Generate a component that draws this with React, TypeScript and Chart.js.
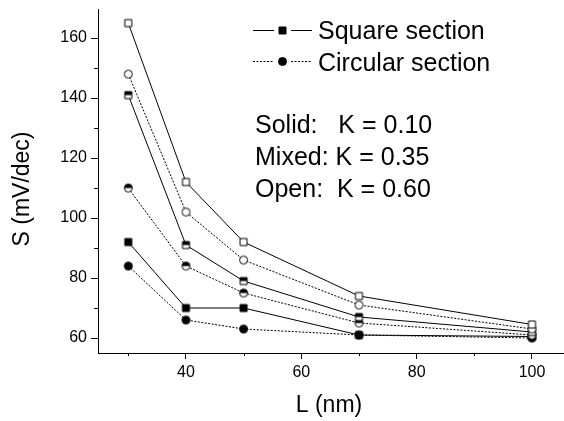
import React, { useEffect, useRef } from 'react';
import { Chart, registerables } from 'chart.js';

Chart.register(...registerables);

// ---- data ----
const lengthsNm = [30, 40, 50, 70, 100];
const squareSolid = [92, 70, 70, 61, 60.5];
const circleSolid = [84, 66, 63, 61, 60];
const squareMixed = [141, 91, 79, 67, 62];
const circleMixed = [110, 84, 75, 65, 61];
const squareOpen = [165, 112, 92, 74, 64.5];
const circleOpen = [148, 102, 86, 71, 63];

const xMajorTicks = [40, 60, 80, 100];
const yMajorTicks = [60, 80, 100, 120, 140, 160];
const legendLabels = ['Square section', 'Circular section'];
const annotationLines = ['Solid:   K = 0.10', 'Mixed: K = 0.35', 'Open:  K = 0.60'];
const xTitle = 'L (nm)';
const yTitle = 'S (mV/dec)';

const FONT = '"Liberation Sans", Arial, Helvetica, sans-serif';

type Shape = 'square' | 'circle';
type Fill = 'full' | 'half' | 'none';

function makeMarker(shape: Shape, fill: Fill): HTMLCanvasElement {
  const c = document.createElement('canvas');
  const dim = 11;
  c.width = dim;
  c.height = dim;
  const g = c.getContext('2d')!;
  const cx = dim / 2;
  const cy = dim / 2;
  const path = () => {
    g.beginPath();
    if (shape === 'square') g.rect(cx - 3.5, cy - 3.5, 7, 7);
    else g.arc(cx, cy, 4, 0, Math.PI * 2);
  };
  path();
  g.fillStyle = fill === 'full' ? '#000' : '#fff';
  g.fill();
  if (fill === 'half') {
    g.save();
    path();
    g.clip();
    g.fillStyle = '#000';
    g.fillRect(0, 0, dim, cy);
    g.restore();
  }
  g.lineWidth = 1;
  g.strokeStyle = '#000';
  path();
  g.stroke();
  return c;
}

export default function App() {
  const ref = useRef<HTMLCanvasElement | null>(null);

  useEffect(() => {
    if (!ref.current) return;
    const sqFull = makeMarker('square', 'full');
    const sqHalf = makeMarker('square', 'half');
    const sqNone = makeMarker('square', 'none');
    const ciFull = makeMarker('circle', 'full');
    const ciHalf = makeMarker('circle', 'half');
    const ciNone = makeMarker('circle', 'none');
    const dotted = [2, 1.5];

    const mk = (label: string, vals: number[], marker: HTMLCanvasElement, dash: number[]) => ({
      label,
      data: lengthsNm.map((x, i) => ({ x, y: vals[i] })),
      borderColor: '#000',
      backgroundColor: '#000',
      borderWidth: 1,
      borderDash: dash,
      pointStyle: marker,
      pointRadius: 5,
      pointHoverRadius: 5,
      tension: 0,
      fill: false,
    });

    const overlay = {
      id: 'overlay',
      afterDraw(chart: any) {
        const { ctx } = chart;
        const xs = chart.scales.x;
        const ys = chart.scales.y;
        ctx.save();
        ctx.strokeStyle = '#000';
        ctx.lineWidth = 1;
        // minor ticks
        xs.ticks.forEach((t: any) => {
          if (!xMajorTicks.includes(t.value)) {
            const px = Math.round(xs.getPixelForValue(t.value)) + 0.5;
            ctx.beginPath();
            ctx.moveTo(px, ys.bottom);
            ctx.lineTo(px, ys.bottom + 3);
            ctx.stroke();
          }
        });
        ys.ticks.forEach((t: any) => {
          if (!yMajorTicks.includes(t.value)) {
            const py = Math.round(ys.getPixelForValue(t.value)) + 0.5;
            ctx.beginPath();
            ctx.moveTo(xs.left, py);
            ctx.lineTo(xs.left - 4, py);
            ctx.stroke();
          }
        });

        // legend
        const rows = [
          { y: 30.5, dash: [] as number[], marker: sqFull, text: legendLabels[0], base: 38.5 },
          { y: 61.5, dash: dotted, marker: ciFull, text: legendLabels[1], base: 70.5 },
        ];
        rows.forEach((r) => {
          ctx.setLineDash(r.dash);
          ctx.beginPath();
          ctx.moveTo(253, r.y);
          ctx.lineTo(274, r.y);
          ctx.moveTo(291, r.y);
          ctx.lineTo(312, r.y);
          ctx.stroke();
          ctx.setLineDash([]);
          ctx.drawImage(r.marker, 282.5 - r.marker.width / 2, r.y - r.marker.height / 2);
          ctx.fillStyle = '#000';
          ctx.font = `25px ${FONT}`;
          ctx.textAlign = 'left';
          ctx.textBaseline = 'alphabetic';
          ctx.fillText(r.text, 318, r.base);
        });

        // annotation
        ctx.font = `25px ${FONT}`;
        annotationLines.forEach((s, i) => {
          ctx.fillText(s, 255, 133 + i * 32);
        });

        // axis titles
        ctx.font = `23px ${FONT}`;
        ctx.textAlign = 'center';
        ctx.textBaseline = 'middle';
        ctx.fillText(xTitle, 329, 406);
        ctx.save();
        ctx.translate(23, 189);
        ctx.rotate(-Math.PI / 2);
        ctx.font = `23px ${FONT}`;
        ctx.fillText(yTitle, 0, 0);
        ctx.restore();

        ctx.restore();
      },
    };

    const chart = new Chart(ref.current, {
      type: 'line',
      data: {
        datasets: [
          mk('Square open', squareOpen, sqNone, []),
          mk('Circle open', circleOpen, ciNone, dotted),
          mk('Square mixed', squareMixed, sqHalf, []),
          mk('Circle mixed', circleMixed, ciHalf, dotted),
          mk('Square solid', squareSolid, sqFull, []),
          mk('Circle solid', circleSolid, ciFull, dotted),
        ] as any,
      },
      options: {
        animation: false,
        responsive: false,
        maintainAspectRatio: false,
        layout: { autoPadding: false, padding: { top: 9, right: 0, bottom: 0, left: 0 } },
        plugins: {
          legend: { display: false },
          tooltip: { enabled: false },
        },
        scales: {
          x: {
            type: 'linear',
            min: 24.75,
            max: 105.55,
            afterFit: (s: any) => {
              s.height = 68;
              s.paddingLeft = 0;
              s.paddingRight = 0;
              s.paddingTop = 0;
              s.paddingBottom = 0;
            },
            border: { display: true, color: '#000', width: 1 },
            grid: {
              drawOnChartArea: false,
              drawTicks: true,
              tickLength: 6,
              color: (c: any) => (c.tick && xMajorTicks.includes(c.tick.value) ? '#000' : 'rgba(0,0,0,0)'),
            },
            ticks: {
              stepSize: 10,
              includeBounds: false,
              autoSkip: false,
              maxRotation: 0,
              color: '#000',
              padding: 4,
              font: { family: FONT, size: 16 },
              callback: (v: any) => (xMajorTicks.includes(Number(v)) ? String(v) : ''),
            },
          },
          y: {
            type: 'linear',
            min: 55,
            max: 169.7,
            afterFit: (s: any) => {
              s.width = 98;
              s.paddingLeft = 0;
              s.paddingRight = 0;
              s.paddingTop = 0;
              s.paddingBottom = 0;
            },
            border: { display: true, color: '#000', width: 1 },
            grid: {
              drawOnChartArea: false,
              drawTicks: true,
              tickLength: 7,
              color: (c: any) => (c.tick && yMajorTicks.includes(c.tick.value) ? '#000' : 'rgba(0,0,0,0)'),
            },
            ticks: {
              stepSize: 10,
              includeBounds: false,
              autoSkip: false,
              color: '#000',
              padding: 4,
              font: { family: FONT, size: 16 },
              callback: (v: any) => (yMajorTicks.includes(Number(v)) ? String(v) : ''),
            },
          },
        },
      } as any,
      plugins: [overlay],
    });

    return () => chart.destroy();
  }, []);

  return (
    <div style={{ position: 'fixed', left: 0, top: 0, width: 564, height: 421, background: '#fff' }}>
      <canvas ref={ref} width={564} height={421} style={{ display: 'block' }} />
    </div>
  );
}
